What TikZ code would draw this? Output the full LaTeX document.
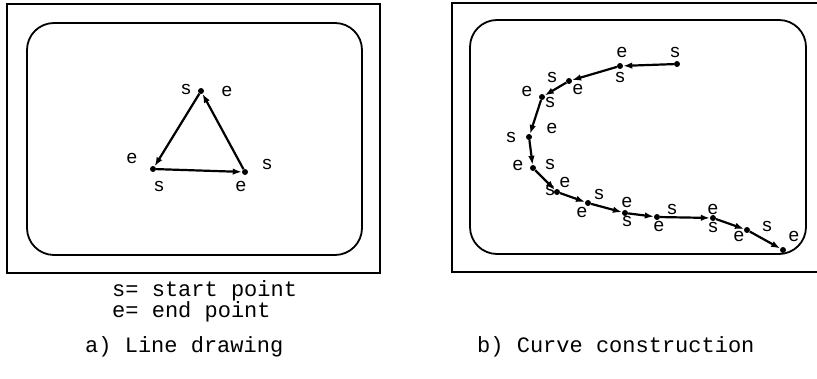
\documentclass[tikz,border=0pt]{standalone}
\usepackage{fontspec}
\setsansfont{Liberation Sans}
\setmonofont{Liberation Mono}
\usetikzlibrary{arrows.meta}

\begin{document}
\begin{tikzpicture}[x=1pt,y=-1pt,
  frame/.style={line width=1.8pt},
  dot/.style={circle,fill,inner sep=0pt,minimum size=6pt},
  seg/.style={line width=2.2pt,-{Latex[length=9pt,width=6.5pt]}},
  lbl/.style={font=\fontsize{19}{19}\sffamily,inner sep=0pt},
  captxt/.style={font=\fontsize{22}{18}\ttfamily,inner sep=0pt,anchor=base west}]
  \useasboundingbox (0,0) rectangle (817,379);
  % Left panel frames
  \draw[frame] (7,4) rectangle (380,273);
  \draw[frame,rounded corners=27pt] (27,23) rectangle (362,255);
  % Right panel frames (right side runs off the page)
  \draw[frame] (817,3) -- (452,3) -- (452,272) -- (817,272);
  \draw[frame,rounded corners=27pt] (470,20) rectangle (806,254);

  % a) Triangle
  \node[dot] (tt) at (201,91) {};
  \node[dot] (tl) at (153,169) {};
  \node[dot] (tr) at (245,172) {};
  \draw[seg] (tt) -- (tl);
  \draw[seg] (tl) -- (tr);
  \draw[seg] (tr) -- (tt);
  \foreach \x/\y/\t [count=\k] in {186/89/s,227/91/e,132/158/e,159/186/s,241/186/e,267/164/s}
    \node[lbl] (tlbl\k) at (\x,\y) {\t};

  % b) Curve made of segments
  \foreach \x/\y [count=\k from 0] in {677/64,620/66,569/81,542/97,529/137,533/168,
      557/192,588/203,625/213,657/217,713/218,747/230,783/250}
    \node[dot] (c\k) at (\x,\y) {};
  \foreach \k [count=\j from 1] in {0,...,11}
    \draw[seg] (c\k) -- (c\j);
  \foreach \x/\y/\t [count=\k] in {675/52/s,622/52/e,620/77/s,552/77/s,578/89/e,
      527/91/e,550/102/s,511/137/s,552/128/e,518/165/e,550/164/s,565/182/e,
      550/190/s,599/194/s,582/212/e,627/202/e,627/221/s,659/226/e,672/209/s,
      713/209/e,713/227/s,739/236/e,767/226/s,794/236/e}
    \node[lbl] (clbl\k) at (\x,\y) {\t};

  % Legend and captions
  \node[captxt,align=left] (legend) at (112,318) {s= start point\\[0pt]e= end point};
  \node[captxt] (capa) at (85,353) {a) Line drawing};
  \node[captxt] (capb) at (477,353) {b) Curve construction};
\end{tikzpicture}
\end{document}
